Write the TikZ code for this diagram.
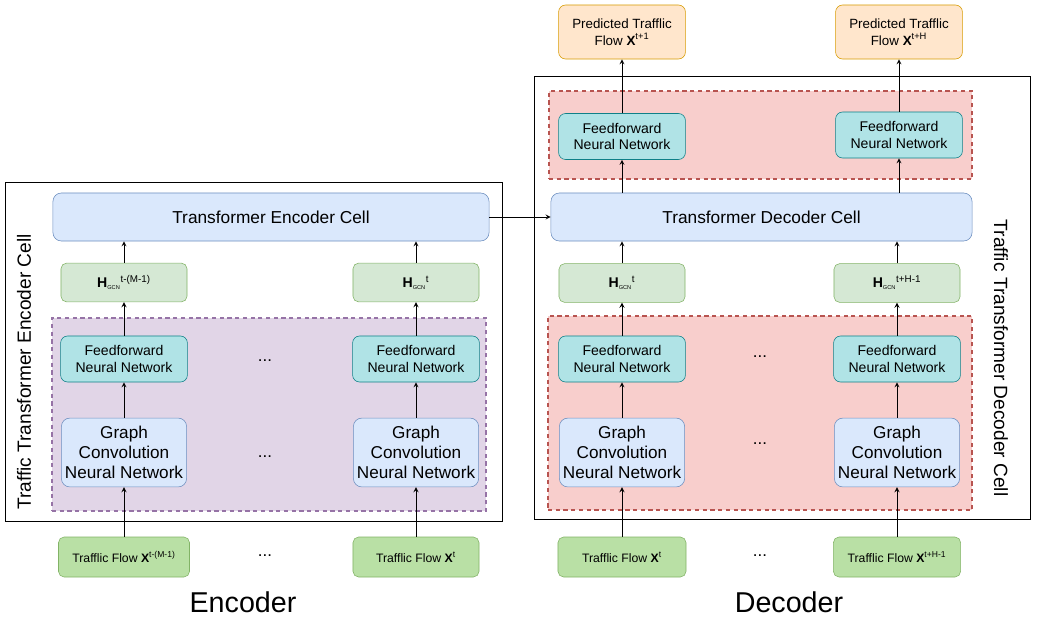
\documentclass[tikz,border=0pt]{standalone}
\usepackage{fontspec}
\setmainfont{Liberation Sans}
\usepackage{tikz}
\usetikzlibrary{arrows}
\usetikzlibrary{positioning}

\definecolor{cellfill}{HTML}{DAE8FC}
\definecolor{celldraw}{HTML}{6C8EBF}
\definecolor{hfill}{HTML}{D5E8D4}
\definecolor{gdraw}{HTML}{82B366}
\definecolor{infill}{HTML}{B9E0A5}
\definecolor{fffill}{HTML}{B0E3E6}
\definecolor{ffdraw}{HTML}{0E8088}
\definecolor{encfill}{HTML}{E1D5E7}
\definecolor{encdraw}{HTML}{9673A6}
\definecolor{decfill}{HTML}{F8CECC}
\definecolor{decdraw}{HTML}{B85450}
\definecolor{outfill}{HTML}{FFE6CC}
\definecolor{outdraw}{HTML}{D79B00}

\newcommand{\hgcn}[1]{\textbf{H}\textsubscript{\fontsize{4}{4}\selectfont GCN}\textsuperscript{#1}}
\newcommand{\xflow}[1]{\textbf{X}\textsuperscript{#1}}

\begin{document}
\begin{tikzpicture}
		[x=0.025cm, y=-0.025cm, >=stealth,
		cell/.style = {draw=celldraw, fill=cellfill, rounded corners=6pt, inner sep=0pt, minimum height=1.2cm, font=\fontsize{12.3}{14}\selectfont},
		hbox/.style = {draw=gdraw, fill=hfill, rounded corners=4pt, inner sep=0pt, minimum width=3.15cm, minimum height=0.97cm, font=\fontsize{10}{12}\selectfont},
		ffn/.style = {draw=ffdraw, fill=fffill, rounded corners=5pt, inner sep=0pt, minimum width=3.17cm, minimum height=1.15cm, align=center, font=\fontsize{10}{11.5}\selectfont},
		gcn/.style = {draw=celldraw, fill=cellfill, rounded corners=6pt, inner sep=0pt, minimum width=3.13cm, minimum height=1.72cm, align=center, font=\fontsize{12.2}{14.2}\selectfont},
		inbox/.style = {draw=gdraw, fill=infill, rounded corners=4pt, inner sep=0pt, minimum width=3.2cm, minimum height=1cm, font=\fontsize{8.7}{10}\selectfont},
		outbox/.style = {draw=outdraw, fill=outfill, rounded corners=5pt, inner sep=0pt, minimum width=3.17cm, minimum height=1.35cm, align=center, font=\fontsize{9.5}{12}\selectfont},
		frame/.style = {draw, line width=0.75pt, inner sep=0pt},
		group/.style = {line width=1pt, dash pattern=on 3pt off 2.5pt, inner sep=0pt},
		dots/.style = {font=\fontsize{12}{12}\selectfont},
		title/.style = {inner sep=0pt, font=\fontsize{20.4}{22}\selectfont},
		flow/.style = {->, line width=0.6pt}]
        \useasboundingbox (0,0) rectangle (1039,619);

        \node[frame, minimum width=12.4cm, minimum height=8.45cm] (encbox) at (254,352) {};
        \node[frame, minimum width=12.375cm, minimum height=11.05cm] (decbox) at (782.5,298) {};
        \node[group, draw=encdraw, fill=encfill, minimum width=10.85cm, minimum height=4.825cm] (encgrp) at (269,414.5) {};
        \node[group, draw=decdraw, fill=decfill, minimum width=10.6cm, minimum height=4.85cm] (decgrp) at (760,413) {};
        \node[group, draw=decdraw, fill=decfill, minimum width=10.575cm, minimum height=2.2cm] (topgrp) at (760.5,135) {};

        \node[cell, minimum width=10.9cm] (tenc) at (271,217) {Transformer Encoder Cell};
        \node[cell, minimum width=10.525cm] (tdec) at (761.5,217) {Transformer Decoder Cell};

        \node[hbox] (h1) at (124,282.5) {\hgcn{t-(M-1)}};
        \node[hbox] (h2) at (416,282.5) {\hgcn{t}};
        \node[hbox] (h3) at (622,283) {\hgcn{t}};
        \node[hbox] (h4) at (897,283) {\hgcn{t+H-1}};

        \node[ffn] (f1) at (124,359) {Feedforward\\Neural Network};
        \node[ffn] (f2) at (416,359) {Feedforward\\Neural Network};
        \node[ffn] (f3) at (622,359) {Feedforward\\Neural Network};
        \node[ffn] (f4) at (897,359) {Feedforward\\Neural Network};
        \node[ffn] (f5) at (622,136.5) {Feedforward\\Neural Network};
        \node[ffn] (f6) at (899,135) {Feedforward\\Neural Network};

        \node[gcn] (g1) at (124,452.5) {Graph\\Convolution\\Neural Network};
        \node[gcn] (g2) at (416,452.5) {Graph\\Convolution\\Neural Network};
        \node[gcn] (g3) at (622,452.5) {Graph\\Convolution\\Neural Network};
        \node[gcn] (g4) at (897,452.5) {Graph\\Convolution\\Neural Network};

        \node[inbox, minimum width=3.275cm] (x1) at (124,557) {Trafflic Flow \xflow{t-(M-1)}};
        \node[inbox, minimum width=3.15cm] (x2) at (416,557) {Trafflic Flow \xflow{t}};
        \node[inbox] (x3) at (622,557) {Trafflic Flow \xflow{t}};
        \node[inbox, minimum width=3.18cm] (x4) at (897,557) {Trafflic Flow \xflow{t+H-1}};

        \node[outbox] (y1) at (622,32) {Predicted Trafflic\\Flow \xflow{t+1}};
        \node[outbox] (y2) at (899,32) {Predicted Trafflic\\Flow \xflow{t+H}};

        \node[dots] (d1) at (265,361) {...};
        \node[dots] (d2) at (265,457) {...};
        \node[dots] (d3) at (265,556) {...};
        \node[dots] (d4) at (760,357) {...};
        \node[dots] (d5) at (760,444) {...};
        \node[dots] (d6) at (760,556) {...};

        \node[rotate=90, font=\fontsize{13.6}{14}\selectfont] (enclabel) at (24,372) {Traffic Transformer Encoder Cell};
        \node[rotate=-90, font=\fontsize{13.6}{14}\selectfont] (declabel) at (1001,358) {Traffic Transformer Decoder Cell};
        \node[title] (enctitle) at (243,602) {Encoder};
        \node[title] (dectitle) at (789,602) {Decoder};

        \draw[flow] (x1) -- (g1);
        \draw[flow] (x2) -- (g2);
        \draw[flow] (x3) -- (g3);
        \draw[flow] (x4) -- (g4);
        \draw[flow] (g1) -- (f1);
        \draw[flow] (g2) -- (f2);
        \draw[flow] (g3) -- (f3);
        \draw[flow] (g4) -- (f4);
        \draw[flow] (f1) -- (h1);
        \draw[flow] (f2) -- (h2);
        \draw[flow] (f3) -- (h3);
        \draw[flow] (f4) -- (h4);
        \draw[flow] (h1) -- (h1 |- tenc.south);
        \draw[flow] (h2) -- (h2 |- tenc.south);
        \draw[flow] (h3) -- (h3 |- tdec.south);
        \draw[flow] (h4) -- (h4 |- tdec.south);
        \draw[flow] (f5 |- tdec.north) -- (f5);
        \draw[flow] (f6 |- tdec.north) -- (f6);
        \draw[flow] (f5) -- (y1);
        \draw[flow] (f6) -- (y2);
        \draw[flow] (tenc) -- (tdec);
	\end{tikzpicture}
\end{document}
